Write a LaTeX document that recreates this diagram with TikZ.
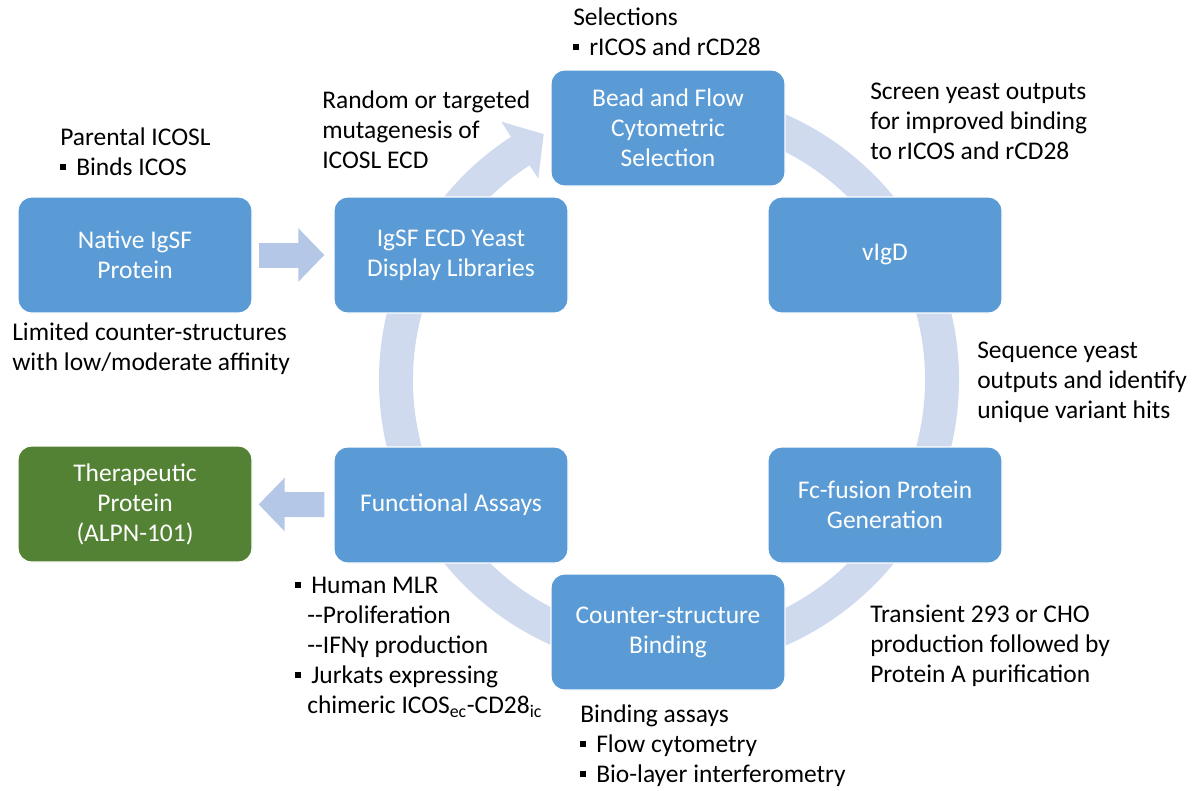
\documentclass[tikz,border=0pt]{standalone}
\usepackage{fontspec}
\setmainfont{Carlito}
\usetikzlibrary{arrows.meta}
\definecolor{boxblue}{RGB}{91,155,213}
\definecolor{boxgreen}{RGB}{84,130,53}
\definecolor{ringblue}{RGB}{207,218,238}
\definecolor{arrowblue}{RGB}{180,199,231}
\newcommand{\sqbullet}{\rule[0.42ex]{4.5pt}{4.5pt}\hspace{7.5pt}}
\tikzset{
  box/.style = {draw = white, line width = 1pt, fill = boxblue, rounded corners = 10pt,
    minimum width = 175.5pt, minimum height = 87pt, text = white, align = center,
    font = \fontsize{19.1}{22.5}\selectfont},
  note/.style = {anchor = base west, align = left, inner sep = 0pt,
    font = \fontsize{19.1}{22.5}\selectfont},
  blockarrow/.style = {arrowblue, line width = 18.75pt,
    -{Triangle[length = 19.5pt, width = 39pt]}}
}
\begin{document}
\begin{tikzpicture}[x = 0.75pt, y = 0.75pt]
  \useasboundingbox (0, 0) rectangle (1194, -790);
  \coordinate (hub) at (669, -380);
  % the cycle
  \fill [ringblue] ([shift = {(80:290)}] hub) arc [start angle = 80, end angle = -237, radius = 290]
    -- ([shift = {(-237:308)}] hub) -- ([shift = {(-243:276)}] hub) -- ([shift = {(-237:240)}] hub)
    -- ([shift = {(-237:256)}] hub) arc [start angle = -237, end angle = 80, radius = 256] -- cycle;
  \node (native) at (135, -255) [box] {Native IgSF\\Protein};
  \node (library) at (451, -255) [box] {IgSF ECD Yeast\\Display Libraries};
  \node (bead) at (668, -128) [box] {Bead and Flow\\Cytometric\\Selection};
  \node (vigd) at (885, -255) [box] {vIgD};
  \node (fcfusion) at (885, -505) [box] {Fc-fusion Protein\\Generation};
  \node (binding) at (668, -632) [box] {Counter-structure\\Binding};
  \node (assays) at (451, -505) [box] {Functional Assays};
  \node (therapeutic) at (135, -504) [box, fill = boxgreen] {Therapeutic\\Protein\\(ALPN-101)};
  \draw [blockarrow, shorten <= 4.5pt, shorten >= 6.75pt] (native) -- (library);
  \draw [blockarrow, shorten <= 6.75pt, shorten >= 4.5pt] (assays) -- (therapeutic);
  % notes (placed at the baseline of their last line)
  \node (parental) at (60, -175) [note] {Parental ICOSL\\\sqbullet Binds ICOS};
  \node (limited) at (12, -370) [note] {Limited counter-structures\\with low/moderate affinity};
  \node (random) at (322, -168) [note] {Random or targeted\\mutagenesis of\\ICOSL ECD};
  \node (selections) at (573, -55) [note] {Selections\\\sqbullet rICOS and rCD28};
  \node (screen) at (870, -159) [note] {Screen yeast outputs\\for improved binding\\to rICOS and rCD28};
  \node (sequence) at (977, -418) [note] {Sequence yeast\\outputs and identify\\unique variant hits};
  \node (transient) at (870, -682) [note] {Transient 293 or CHO\\production followed by\\Protein A purification};
  \node (bindassays) at (580, -782) [note] {Binding assays\\\sqbullet Flow cytometry\\\sqbullet Bio-layer interferometry};
  \node (mlr) at (295, -713) [note] {\sqbullet Human MLR\\\hspace{9pt}-{}-Proliferation\\\hspace{9pt}-{}-IFNγ production\\\sqbullet Jurkats expressing\\\hspace{9pt}chimeric ICOS\textsubscript{ec}-CD28\textsubscript{ic}};
\end{tikzpicture}
\end{document}
